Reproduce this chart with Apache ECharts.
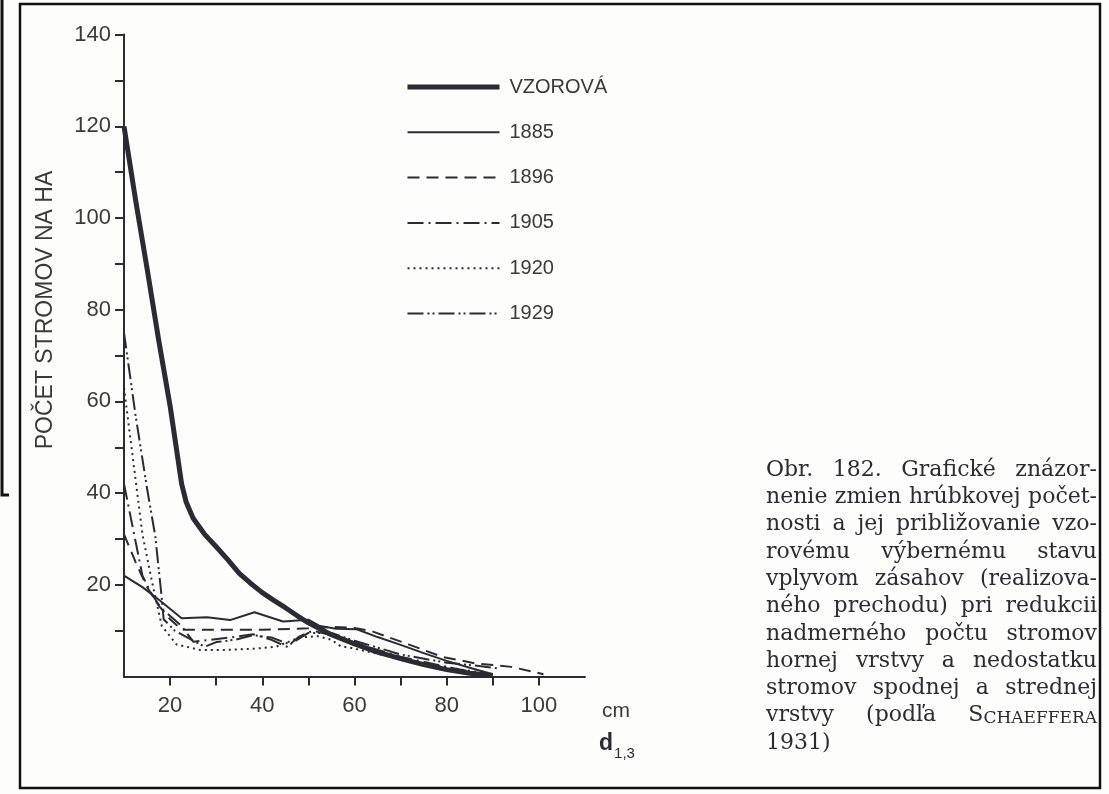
<!DOCTYPE html>
<html>
<head>
<meta charset="utf-8">
<script src="https://cdn.jsdelivr.net/npm/echarts@6/dist/echarts.min.js"></script>
<style>
    html, body { margin: 0; padding: 0; background: #fdfdfc; }
    #chart { width: 1109px; height: 794px; }
</style>
</head>
<body>
<div id="chart"></div>
<script>
// hodnoty odčítané z obrázka: [hrúbka d1,3 v cm, počet stromov na ha]
const vzorova = [[10, 120], [12.5, 104], [15, 89], [17.5, 73.5], [20, 59], [22.5, 42], [23.5, 38], [25, 34.5], [27.5, 31], [30, 28.3], [32.5, 25.5], [35, 22.5], [37.5, 20.3], [40, 18.3], [42.5, 16.6], [45, 15], [47.5, 13.3], [50, 11.7], [55, 9.1], [60, 7.1], [65, 5.3], [70, 3.9], [75, 2.6], [80, 1.5], [85, 0.7], [90, 0.2]];
const rok1885 = [[10, 22], [14, 19.5], [17.5, 16.8], [22.5, 12.7], [28, 12.9], [33, 12.3], [38.3, 14], [44.5, 12], [50, 12.4], [52.5, 11], [56, 10.4], [60.5, 10.3], [65, 8.6], [70, 6.9], [75, 5.1], [80, 3.4], [85, 1.9], [90, 0.5]];
const rok1896 = [[10, 31], [12.5, 25], [15, 19.5], [17.5, 15.5], [20, 12.5], [22.5, 10.2], [30, 10.2], [40, 10.2], [50, 10.5], [55, 10.8], [60, 10.6], [64, 9.8], [72, 6.9], [79, 4.3], [86, 2.9], [94, 2.1], [101, 0.5]];
const rok1905 = [[10, 42], [12, 32], [14, 22], [16, 18], [18, 15], [22.5, 11], [25, 7.6], [28.7, 8], [33, 8.5], [38, 9.2], [42, 8], [45.3, 6.5], [48, 8.7], [51, 10], [55, 9], [60, 7.3], [70, 4.3], [80, 2.1], [87, 0.7]];
const rok1920 = [[10, 63], [12, 47], [14, 31], [16.3, 19.6], [18.2, 11], [21.4, 7], [26.5, 5.8], [32.3, 5.8], [38.8, 6.1], [43, 6.5], [48, 8.5], [52, 8.8], [55, 8], [57, 6.6], [60, 6.1], [70, 3.8], [80, 2], [88, 0.8]];
const rok1929 = [[10, 75], [12.5, 57], [15, 41], [16.8, 30.5], [18.2, 17], [18.6, 12.5], [21, 10], [24.7, 8], [27.5, 6.5], [30, 7.5], [34, 8], [38, 9], [42, 8.5], [46, 7], [50, 9.5], [55, 9.5], [60, 7.8], [70, 4.8], [80, 3], [86, 2.4], [91, 1.8]];

const seriesNames = ['VZOROVÁ', '1885', '1896', '1905', '1920', '1929'];
const xTicks = [20, 30, 40, 50, 60, 70, 80, 90, 100];
const xTickLabels = [20, 40, 60, 80, 100];
const yTicks = [10, 20, 30, 40, 50, 60, 70, 80, 90, 100, 110, 120, 130, 140];
const yTickLabels = [20, 40, 60, 80, 100, 120, 140];

const captionLines = [
    'Obr. 182. Grafické znázor-',
    'nenie zmien hrúbkovej počet-',
    'nosti a jej približovanie vzo-',
    'rovému výbernému stavu',
    'vplyvom zásahov (realizova-',
    'ného prechodu) pri redukcii',
    'nadmerného počtu stromov',
    'hornej vrstvy a nedostatku',
    'stromov spodnej a strednej',
    'vrstvy (podľa SCHAEFFERA',
    '1931)'
];

const ink = '#2b2b33';
const textInk = '#3a3a3a';
const sans = 'Liberation Sans';
const serif = 'DejaVu Serif';
const capSize = 22;
const smallCapSize = 17;

// zarovnanie popisu do bloku (ako v knihe)
const measureCtx = document.createElement('canvas').getContext('2d');
function textWidth(str, size) {
    measureCtx.font = size + 'px "' + serif + '"';
    return measureCtx.measureText(str).width;
}
function wordWidth(word) {
    if (word === 'SCHAEFFERA') {
        return textWidth('S', capSize) + textWidth('CHAEFFERA', smallCapSize);
    }
    return textWidth(word, capSize);
}

function buildCaption() {
    const left = 766, right = 1097, top = 470, step = 27.3;
    const items = [];
    captionLines.forEach((line, i) => {
        const words = line.split(' ');
        const widths = words.map(wordWidth);
        const total = widths.reduce((a, b) => a + b, 0);
        const last = i === captionLines.length - 1;
        const space = last || words.length < 2
            ? textWidth(' ', capSize)
            : (right - left - total) / (words.length - 1);
        let x = left;
        words.forEach((w, j) => {
            const style = w === 'SCHAEFFERA'
                ? {
                    text: '{a|S}{b|CHAEFFERA}',
                    rich: {
                        a: { fontSize: capSize, fontFamily: serif, fill: ink, verticalAlign: 'bottom' },
                        b: { fontSize: smallCapSize, fontFamily: serif, fill: ink, verticalAlign: 'bottom' }
                    },
                    verticalAlign: 'middle'
                }
                : { text: w, fontSize: capSize, fontFamily: serif, fill: ink, verticalAlign: 'middle' };
            items.push({ type: 'text', x: x, y: top + i * step, silent: true, style: style });
            x += widths[j] + space;
        });
    });
    return items;
}

function lineSeries(name, data, width, dash) {
    return {
        name: name,
        type: 'line',
        data: data,
        symbol: 'none',
        smooth: false,
        silent: true,
        lineStyle: { color: ink, width: width, type: dash, cap: 'butt', join: 'round' },
        itemStyle: { color: ink },
        emphasis: { disabled: true }
    };
}

function initChart() {
    const chartDom = document.getElementById('chart');
    const myChart = echarts.init(chartDom, null, { renderer: 'canvas' });

    const option = {
        animation: false,
        backgroundColor: '#fdfdfc',
        grid: {
            left: 124,
            right: 524,
            top: 34.6,
            bottom: 117.5
        },
        legend: {
            orient: 'vertical',
            left: 400,
            top: 70,
            itemWidth: 92,
            itemHeight: 24,
            itemGap: 21.3,
            data: seriesNames,
            selectedMode: false,
            itemStyle: { opacity: 0 },
            lineStyle: { width: 'inherit' },
            textStyle: {
                color: textInk,
                fontFamily: sans,
                fontSize: 20,
                lineHeight: 24,
                padding: [0, 0, 0, 5]
            }
        },
        xAxis: {
            type: 'value',
            min: 10,
            max: 110,
            interval: 10,
            name: 'cm',
            nameLocation: 'end',
            nameGap: 17,
            nameTextStyle: {
                color: textInk,
                fontFamily: sans,
                fontSize: 21,
                align: 'left',
                verticalAlign: 'top',
                padding: [24, 0, 0, 0]
            },
            axisLine: { lineStyle: { color: ink, width: 2 } },
            axisTick: {
                show: true,
                inside: false,
                length: 9,
                customValues: xTicks,
                lineStyle: { color: ink, width: 2 }
            },
            axisLabel: {
                customValues: xTickLabels,
                margin: 18,
                color: textInk,
                fontFamily: sans,
                fontSize: 22
            },
            splitLine: { show: false }
        },
        yAxis: {
            type: 'value',
            min: 0,
            max: 140,
            interval: 10,
            axisLine: { show: true, lineStyle: { color: ink, width: 2 } },
            axisTick: {
                show: true,
                inside: false,
                length: 9,
                customValues: yTicks,
                lineStyle: { color: ink, width: 2 }
            },
            axisLabel: {
                customValues: yTickLabels,
                margin: 13,
                color: textInk,
                fontFamily: sans,
                fontSize: 22
            },
            splitLine: { show: false }
        },
        graphic: [
            // rám obrázka
            {
                type: 'rect',
                silent: true,
                shape: { x: 20, y: 4, width: 1080, height: 784 },
                style: { fill: null, stroke: '#111', lineWidth: 2.5 }
            },
            {
                type: 'polyline',
                silent: true,
                shape: { points: [[2, 0], [2, 495], [9, 495]] },
                style: { fill: null, stroke: '#111', lineWidth: 3 }
            },
            {
                type: 'text',
                silent: true,
                x: 46,
                y: 310,
                rotation: Math.PI / 2,
                style: {
                    text: 'POČET STROMOV NA HA',
                    fontSize: 23,
                    fontFamily: sans,
                    fill: textInk,
                    align: 'center',
                    verticalAlign: 'middle'
                }
            },
            {
                type: 'text',
                silent: true,
                x: 599,
                y: 744,
                style: {
                    text: '{d|d}{s|1,3}',
                    verticalAlign: 'middle',
                    rich: {
                        d: { fontSize: 23, fontWeight: 'bold', fontFamily: sans, fill: ink, verticalAlign: 'bottom' },
                        s: { fontSize: 15, fontFamily: sans, fill: ink, verticalAlign: 'bottom', padding: [0, 0, -6, 1] }
                    }
                }
            }
        ].concat(buildCaption()),
        series: [
            lineSeries('VZOROVÁ', vzorova, 5, 'solid'),
            lineSeries('1885', rok1885, 2, 'solid'),
            lineSeries('1896', rok1896, 2, [12, 7]),
            lineSeries('1905', rok1905, 2, [16, 5, 2, 5]),
            lineSeries('1920', rok1920, 2, [2, 4]),
            lineSeries('1929', rok1929, 2, [16, 4, 2, 3, 2, 4])
        ]
    };

    myChart.setOption(option);

    window.addEventListener('resize', () => {
        myChart.resize();
    });
}

document.addEventListener('DOMContentLoaded', initChart);
</script>
</body>
</html>
